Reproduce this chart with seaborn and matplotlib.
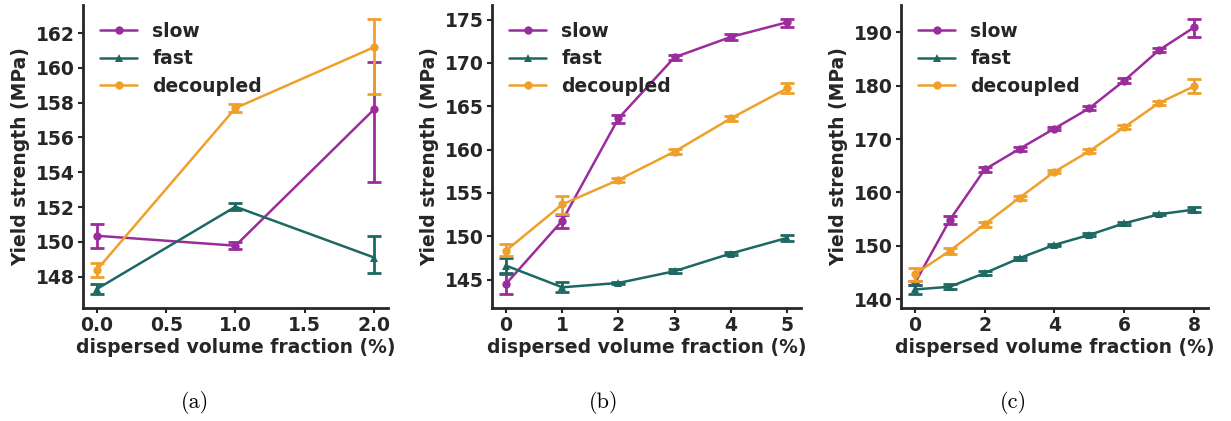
import pandas as pd
import seaborn as sns
import matplotlib.pyplot as plt
from matplotlib.ticker import MultipleLocator, FormatStrFormatter

# --- panel (a): 0-2 %
a_x = [0.0, 1.0, 2.0]
a_slow = [150.35, 149.78, 157.62]
a_slow_lo = [149.65, 149.58, 153.45]
a_slow_hi = [151.05, 149.98, 160.36]
a_fast = [147.29, 152.02, 149.10]
a_fast_lo = [146.99, 151.82, 148.23]
a_fast_hi = [147.59, 152.22, 150.36]
a_dec = [148.39, 157.69, 161.19]
a_dec_lo = [147.97, 157.44, 158.49]
a_dec_hi = [148.81, 157.94, 162.82]

# --- panel (b): 0-5 %
b_x = [0, 1, 2, 3, 4, 5]
b_slow = [144.5, 151.79, 163.6, 170.66, 173.0, 174.69]
b_slow_lo = [143.3, 150.95, 163.1, 170.36, 172.7, 174.15]
b_slow_hi = [145.6, 152.44, 163.95, 170.97, 173.3, 175.1]
b_fast = [146.6, 144.1, 144.6, 145.96, 148.0, 149.8]
b_fast_lo = [145.7, 143.5, 144.45, 145.76, 147.8, 149.45]
b_fast_hi = [147.45, 144.7, 144.75, 146.16, 148.2, 150.15]
b_dec = [148.34, 153.67, 156.5, 159.77, 163.6, 167.06]
b_dec_lo = [147.7, 152.56, 156.25, 159.47, 163.3, 166.5]
b_dec_hi = [149.1, 154.59, 156.75, 160.07, 163.9, 167.7]

# --- panel (c): 0-8 %
c_x = [0, 1, 2, 3, 4, 5, 6, 7, 8]
c_slow = [143.0, 154.84, 164.3, 168.18, 171.98, 175.79, 180.96, 186.7, 190.94]
c_slow_lo = [142.7, 154.14, 163.8, 167.78, 171.68, 175.39, 180.46, 186.3, 189.13]
c_slow_hi = [143.3, 155.54, 164.8, 168.58, 172.28, 176.19, 181.46, 187.1, 192.56]
c_fast = [141.8, 142.3, 144.86, 147.67, 150.16, 152.03, 154.21, 155.9, 156.77]
c_fast_lo = [140.9, 141.8, 144.46, 147.37, 149.96, 151.73, 153.91, 155.7, 156.37]
c_fast_hi = [142.6, 142.8, 145.26, 147.97, 150.36, 152.33, 154.51, 156.1, 157.17]
c_dec = [144.7, 149.04, 154.03, 159.0, 163.88, 167.74, 172.23, 176.78, 179.9]
c_dec_lo = [143.4, 148.44, 153.53, 158.6, 163.58, 167.34, 171.83, 176.48, 178.65]
c_dec_hi = [145.9, 149.64, 154.53, 159.4, 164.18, 168.14, 172.63, 177.08, 181.27]

series_names = ["slow", "fast", "decoupled"]
colors = {"slow": "#9b2c9b", "fast": "#1d6862", "decoupled": "#eea02a"}
markers = {"slow": "o", "fast": "^", "decoupled": "o"}

panels = [
    ("(a)", a_x, [(a_slow, a_slow_lo, a_slow_hi), (a_fast, a_fast_lo, a_fast_hi), (a_dec, a_dec_lo, a_dec_hi)]),
    ("(b)", b_x, [(b_slow, b_slow_lo, b_slow_hi), (b_fast, b_fast_lo, b_fast_hi), (b_dec, b_dec_lo, b_dec_hi)]),
    ("(c)", c_x, [(c_slow, c_slow_lo, c_slow_hi), (c_fast, c_fast_lo, c_fast_hi), (c_dec, c_dec_lo, c_dec_hi)]),
]
# tick spacing (x step, x format, y step)
tick_steps = [(0.5, "%.1f", 2), (1, "%d", 5), (2, "%d", 10)]

sns.set_theme(style="ticks")
plt.rcParams["font.family"] = ["DejaVu Sans"]
plt.rcParams["font.weight"] = "bold"
plt.rcParams["axes.labelweight"] = "bold"
plt.rcParams["axes.linewidth"] = 2.0
plt.rcParams["axes.edgecolor"] = "#262626"

fs = 13.5
fig = plt.figure(figsize=(12.31, 4.21), dpi=100)
lefts = [0.0674, 0.3997, 0.7319]
widths = [0.2478, 0.2510, 0.2494]
caption_x = [195 / 1231, 604 / 1231, 1013 / 1231]

for i, (tag, xs, data) in enumerate(panels):
    ax = fig.add_axes([lefts[i], 0.2684, widths[i], 0.7197])
    rows = []
    for name, (mean, lo, hi) in zip(series_names, data):
        for xv, m in zip(xs, mean):
            rows.append({"x": xv, "y": m, "series": name})
    df = pd.DataFrame(rows)
    sns.lineplot(data=df, x="x", y="y", hue="series", style="series",
                 hue_order=series_names, style_order=series_names,
                 palette=colors, markers=markers, dashes=False,
                 linewidth=1.8, markersize=6, markeredgewidth=0, ax=ax)
    for name, (mean, lo, hi) in zip(series_names, data):
        yerr = [[m - l for m, l in zip(mean, lo)], [h - m for m, h in zip(mean, hi)]]
        ax.errorbar(xs, mean, yerr=yerr, fmt="none", ecolor=colors[name],
                    elinewidth=2, capsize=5, capthick=2)
    sns.despine(ax=ax)
    xstep, xfmt, ystep = tick_steps[i]
    ax.xaxis.set_major_locator(MultipleLocator(xstep))
    ax.xaxis.set_major_formatter(FormatStrFormatter(xfmt))
    ax.yaxis.set_major_locator(MultipleLocator(ystep))
    ax.yaxis.set_major_formatter(FormatStrFormatter("%d"))
    ax.set_xlabel("dispersed volume fraction (%)", fontsize=fs, fontweight="bold", labelpad=2)
    ax.set_ylabel("Yield strength (MPa)", fontsize=fs, fontweight="bold", labelpad=4)
    ax.tick_params(labelsize=fs, length=3.5, width=1.5, pad=2.5)
    for lab in ax.get_xticklabels() + ax.get_yticklabels():
        lab.set_fontweight("bold")
    leg = ax.legend(loc="upper left", frameon=False, fontsize=fs,
                    labelspacing=0.45, handlelength=2.0, handletextpad=0.8)
    for t in leg.get_texts():
        t.set_fontweight("bold")
    fig.text(caption_x[i], 1 - 403 / 421, tag, family="cmr10", fontsize=16,
             ha="center", va="center", color="black", fontweight="normal")

fig.savefig("out.png", dpi=100)
